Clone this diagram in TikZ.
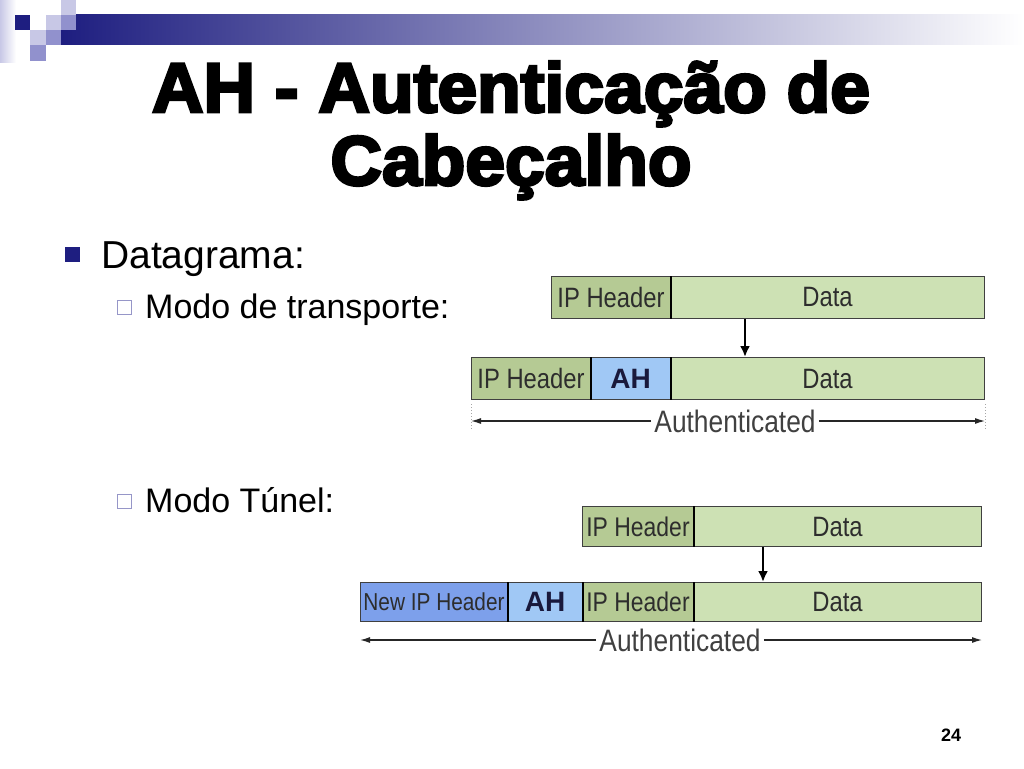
\documentclass[tikz,border=0pt]{standalone}
\usepackage{fontspec}
\setmainfont{Liberation Sans}
\newfontfamily\titlefont{Liberation Sans}[FakeBold=4,FakeStretch=1.02]
\newfontfamily\boxfont{Liberation Sans}[FakeStretch=0.85]
\usetikzlibrary{calc,arrows.meta}
\definecolor{navy}{RGB}{30,30,128}
\definecolor{sqlight}{RGB}{200,200,230}
\definecolor{sqmed}{RGB}{145,145,205}
\definecolor{ipgreen}{RGB}{181,202,148}
\definecolor{datagreen}{RGB}{205,225,180}
\definecolor{ahblue}{RGB}{160,200,245}
\definecolor{newipblue}{RGB}{125,160,235}
\definecolor{boxtext}{RGB}{45,45,45}
\definecolor{ahtext}{RGB}{25,25,60}
\definecolor{hollow}{RGB}{150,150,200}
\tikzset{
  field/.style={draw=black!75, line width=1pt, inner sep=0pt, anchor=north west,
    text=boxtext, font=\boxfont\fontsize{28}{28}\selectfont},
  ahfield/.style={field, fill=ahblue, text=ahtext, font=\fontsize{28}{28}\selectfont\bfseries},
  divider/.style={line width=2.6pt, black},
  downarrow/.style={line width=2.2pt, black, -{Latex[length=11pt,width=10pt]}},
  authline/.style={line width=1.2pt, black!85, -{Latex[length=10pt,width=6pt]}},
  authlabel/.style={text=black!75, font=\boxfont\fontsize{31}{31}\selectfont, inner sep=3pt},
  bodytext/.style={anchor=base west, inner sep=0pt, text=black},
  endmark/.style={line width=1pt, gray!70, dotted},
  titletext/.style={anchor=base, inner sep=0pt, font=\titlefont\bfseries\fontsize{70}{70}\selectfont},
}
\begin{document}
\begin{tikzpicture}[x=1pt,y=-1pt]
\useasboundingbox (0,0) rectangle (1024,768);
\fill[white] (0,0) rectangle (1024,768);
% header decoration
\shade[left color=sqlight, right color=white] (0,0) rectangle (16,62);
\shade[left color=navy, right color=white] (61,15) rectangle (1024,45);
\fill[navy] (15,15) rectangle (30,30);
\fill[sqlight] (46,15) rectangle (61,30);
\fill[sqmed] (61,15) rectangle (76,30);
\fill[sqlight] (61,0) rectangle (76,15);
\fill[sqlight] (30,30) rectangle (46,45);
\fill[sqmed] (46,30) rectangle (61,45);
\fill[sqmed] (30,45) rectangle (46,61);
% title
\node[titletext] (title1) at (511,112) {AH - Autenticação de};
\node[titletext] (title2) at (511,185) {Cabeçalho};
% bullets
\fill[navy] (65,247) rectangle (80,262);
\node[bodytext, font=\fontsize{39}{39}\selectfont] (datagrama) at (101,268) {Datagrama:};
\draw[hollow, line width=1pt] (117.5,300.5) rectangle (131.5,314.5);
\node[bodytext, font=\fontsize{34}{34}\selectfont] (transp) at (145,318) {Modo de transporte:};
\draw[hollow, line width=1pt] (117.5,494.5) rectangle (131.5,508.5);
\node[bodytext, font=\fontsize{34}{34}\selectfont] (tunel) at (145,512) {Modo Túnel:};
% ---------------- transport mode
\node[field, fill=ipgreen, minimum width=119pt, minimum height=42pt] (tip) at (551,276) {IP Header};
\node[field, fill=datagreen, minimum width=314pt, minimum height=42pt] (tdata) at (670,276) {Data};
\draw[divider] (tip.north east) -- (tip.south east);
\node[field, fill=ipgreen, minimum width=119pt, minimum height=42pt] (bip) at (471,357) {IP Header};
\node[ahfield, minimum width=80pt, minimum height=42pt] (bah) at (590,357) {AH};
\node[field, fill=datagreen, minimum width=314pt, minimum height=42pt] (bdata) at (670,357) {Data};
\draw[divider] (bip.north east) -- (bip.south east);
\draw[divider] (bah.north east) -- (bah.south east);
\draw[downarrow] ($(tdata.south west)+(75,0)$) -- ($(bdata.north west)+(75,0)$);
\node[authlabel] (auth1) at (735,421) {Authenticated};
\draw[authline] (auth1.west) -- (auth1.west -| bip.west);
\draw[authline] (auth1.east) -- (auth1.east -| bdata.east);
\draw[endmark] ($(bip.south west)+(0,4)$) -- ($(bip.south west)+(0,29)$);
\draw[endmark] ($(bdata.south east)+(0,4)$) -- ($(bdata.south east)+(0,29)$);
% ---------------- tunnel mode
\node[field, fill=ipgreen, minimum width=111pt, minimum height=40pt, font=\boxfont\fontsize{27}{27}\selectfont] (uip) at (582,506) {IP Header};
\node[field, fill=datagreen, minimum width=288pt, minimum height=40pt] (udata) at (693,506) {Data};
\draw[divider] (uip.north east) -- (uip.south east);
\node[field, fill=newipblue, minimum width=147pt, minimum height=39pt, font=\boxfont\fontsize{24.5}{24.5}\selectfont] (vnew) at (360,582) {New IP Header};
\node[ahfield, minimum width=75pt, minimum height=39pt] (vah) at (507,582) {AH};
\node[field, fill=ipgreen, minimum width=111pt, minimum height=39pt, font=\boxfont\fontsize{27}{27}\selectfont] (vip) at (582,582) {IP Header};
\node[field, fill=datagreen, minimum width=288pt, minimum height=39pt] (vdata) at (693,582) {Data};
\draw[divider] (vnew.north east) -- (vnew.south east);
\draw[divider] (vah.north east) -- (vah.south east);
\draw[divider] (vip.north east) -- (vip.south east);
\draw[downarrow] ($(udata.south west)+(70,0)$) -- ($(vdata.north west)+(70,0)$);
\node[authlabel] (auth2) at (680,640) {Authenticated};
\draw[authline] (auth2.west) -- (auth2.west -| vnew.west);
\draw[authline] (auth2.east) -- (auth2.east -| vdata.east);
% page number
\node[anchor=base, inner sep=0pt, font=\fontsize{18}{18}\selectfont\bfseries] (pagenum) at (951,741) {24};
\end{tikzpicture}
\end{document}
